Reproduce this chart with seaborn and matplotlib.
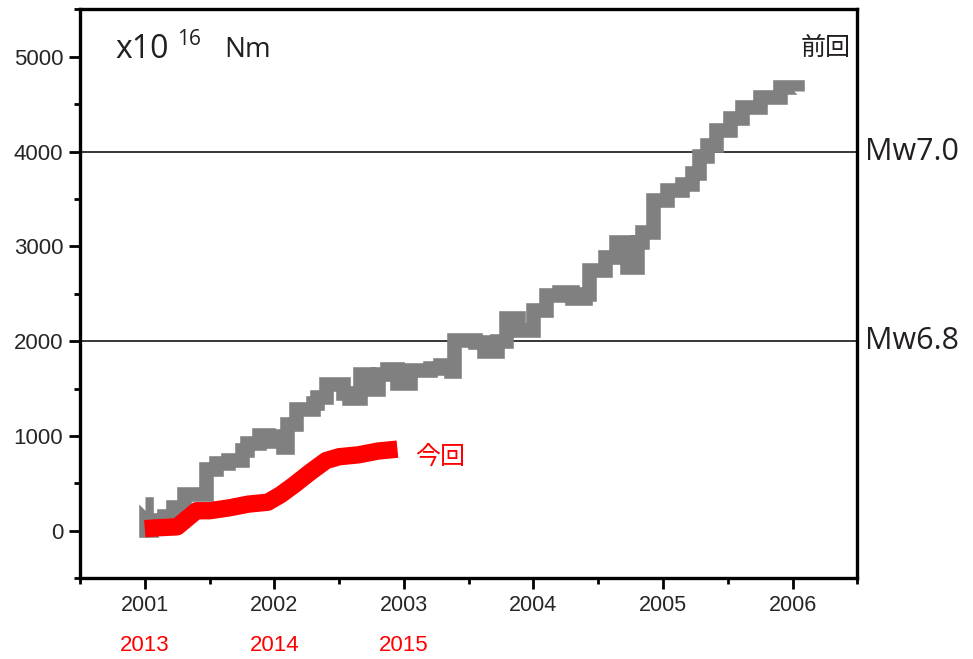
import pandas as pd
import seaborn as sns
import matplotlib.pyplot as plt
from matplotlib.ticker import MultipleLocator
import matplotlib.transforms as mtransforms

# previous sequence (gray, stepped) - years / moment x10^16 Nm
prev_years = [2001.00, 2001.01, 2001.05, 2001.15, 2001.22, 2001.30, 2001.47, 2001.55,
              2001.64, 2001.75, 2001.79, 2001.88, 2001.95, 2002.02, 2002.07, 2002.10,
              2002.17, 2002.30, 2002.33, 2002.40, 2002.53, 2002.58, 2002.66, 2002.72,
              2002.80, 2002.87, 2002.95, 2003.05, 2003.20, 2003.28, 2003.36, 2003.39,
              2003.55, 2003.62, 2003.72, 2003.79, 2003.88, 2004.00, 2004.10, 2004.20,
              2004.30, 2004.40, 2004.43, 2004.55, 2004.64, 2004.72, 2004.80, 2004.84,
              2004.92, 2005.03, 2005.15, 2005.22, 2005.28, 2005.34, 2005.41, 2005.52,
              2005.61, 2005.75, 2005.90, 2006.03]
prev_values = [280, 10, 110, 150, 250, 390, 650, 710,
               750, 850, 920, 1010, 950, 1000, 880, 1130,
               1280, 1350, 1410, 1550, 1450, 1400, 1650, 1500,
               1650, 1710, 1560, 1700, 1720, 1750, 1680, 2010,
               1990, 1900, 2000, 2240, 2120, 2330, 2490, 2520,
               2460, 2500, 2750, 2890, 3050, 2780, 3050, 3150,
               3490, 3600, 3660, 3770, 3950, 4070, 4230, 4350,
               4470, 4580, 4680, 4640]

# current sequence (red, smooth)
curr_years = [2001.00, 2001.10, 2001.25, 2001.32, 2001.40, 2001.50, 2001.65, 2001.80,
              2001.95, 2002.05, 2002.15, 2002.28, 2002.40, 2002.50, 2002.65, 2002.80, 2002.95]
curr_values = [20, 30, 40, 120, 210, 210, 240, 280,
               300, 380, 480, 620, 740, 780, 800, 840, 860]

year_ticks = [2001, 2002, 2003, 2004, 2005, 2006]
curr_labels = ["2013", "2014", "2015"]
mw_levels = [4000, 2000]
mw_labels = ["Mw7.0", "Mw6.8"]

prev_df = pd.DataFrame({"year": prev_years, "moment": prev_values})
curr_df = pd.DataFrame({"year": curr_years, "moment": curr_values})

sns.set_theme(style="white")
plt.rcParams['font.family'] = ['Liberation Sans', 'Noto Sans CJK JP', 'DejaVu Sans']

fig = plt.figure(figsize=(9.73, 6.59), dpi=100)
ax = fig.add_axes([0.0822, 0.1229, 0.799, 0.8627])

for lvl in mw_levels:
    ax.axhline(lvl, color="black", linewidth=1.1, zorder=1)

sns.lineplot(data=prev_df, x="year", y="moment", ax=ax, color="#808080",
             linewidth=10.5, drawstyle="steps-post", estimator=None, sort=False,
             solid_capstyle="butt", solid_joinstyle="miter", zorder=2)
sns.lineplot(data=curr_df, x="year", y="moment", ax=ax, color="#ff0000",
             linewidth=12.5, estimator=None, sort=False,
             solid_capstyle="butt", zorder=3)

ax.set_xlim(2000.5, 2006.5)
ax.set_ylim(-500, 5500)
ax.set_xticks(year_ticks)
ax.set_xticklabels([str(y) for y in year_ticks], fontsize=15.5)
ax.xaxis.set_minor_locator(MultipleLocator(0.5))
ax.yaxis.set_minor_locator(MultipleLocator(500))
ax.set_yticks([0, 1000, 2000, 3000, 4000, 5000])
ax.tick_params(axis="y", labelsize=16)
ax.tick_params(which="major", direction="out", length=8, width=2, color="black", pad=4)
ax.tick_params(which="minor", direction="out", length=4, width=2, color="black")
ax.tick_params(axis="x", which="both", bottom=True)
ax.tick_params(axis="y", which="both", left=True)
ax.set_xlabel("")
ax.set_ylabel("")
for s in ax.spines.values():
    s.set_color("black")
    s.set_linewidth(2.4)

# red year labels for the current sequence
trans = mtransforms.blended_transform_factory(ax.transData, ax.transAxes)
for yr, lab in zip(year_ticks, curr_labels):
    ax.text(yr, -0.118, lab, transform=trans, ha="center", va="center",
            fontsize=16, color="#ff0000")

for lvl, lab in zip(mw_levels, mw_labels):
    ax.text(1.010, lvl, lab, transform=mtransforms.blended_transform_factory(ax.transAxes, ax.transData),
            ha="left", va="center", fontsize=22, color="#231f20", family=["Open Sans", "DejaVu Sans"])

# unit label
ax.text(0.046, 0.930, "x10", transform=ax.transAxes, ha="left", va="center",
        fontsize=23, color="#231f20", family=["Open Sans", "DejaVu Sans"])
ax.text(0.125, 0.947, "16", transform=ax.transAxes, ha="left", va="center",
        fontsize=15, color="#231f20", family=["Open Sans", "DejaVu Sans"])
ax.text(0.186, 0.929, "Nm", transform=ax.transAxes, ha="left", va="center",
        fontsize=20, color="#231f20", family=["Open Sans", "DejaVu Sans"])

ax.text(0.991, 0.932, "前回", transform=ax.transAxes, ha="right", va="center",
        fontsize=18, color="#231f20", family=["Noto Sans CJK JP"])
ax.text(0.431, 0.211, "今回", transform=ax.transAxes, ha="left", va="center",
        fontsize=18, color="#ff0000", family=["Noto Sans CJK JP"])

fig.savefig("out.png", dpi=100)
